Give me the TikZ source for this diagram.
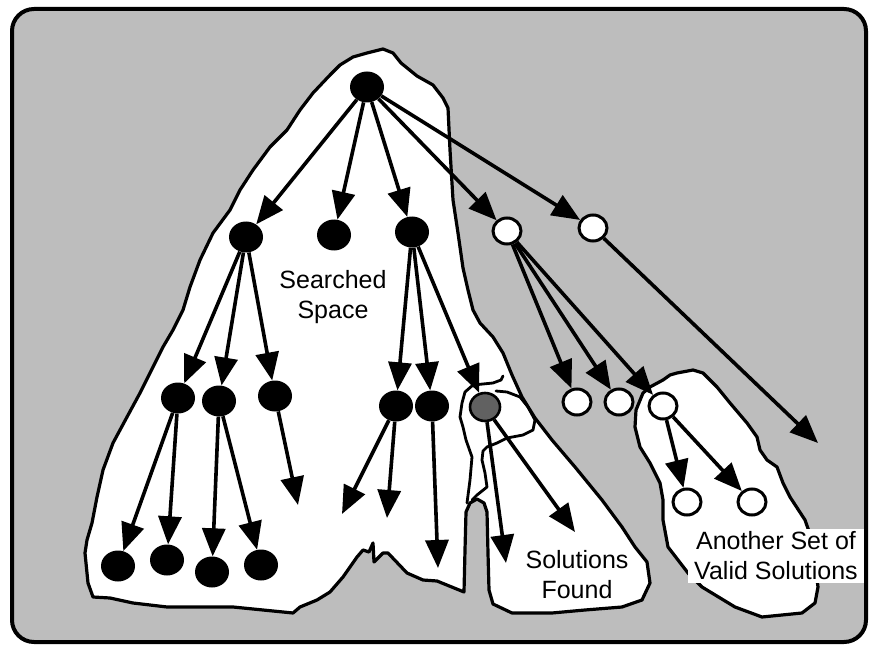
\documentclass[tikz,border=0pt]{standalone}
\usepackage{fontspec}
\setmainfont{Liberation Sans}
\usetikzlibrary{arrows.meta,shapes.geometric}
\definecolor{paper}{gray}{0.74}
\begin{document}
\begin{tikzpicture}[x=1pt,y=-1pt,
  blob/.style={fill=white,draw=black,line width=3.2pt,line join=round},
  rim/.style={draw=black,line width=2.8pt,line join=round,line cap=round},
  solidnode/.style={ellipse,fill=black,minimum width=34pt,minimum height=31pt,inner sep=0pt},
  opennode/.style={ellipse,fill=white,draw=black,line width=3pt,minimum width=28pt,minimum height=26pt,inner sep=0pt},
  foundnode/.style={ellipse,fill=black!62,draw=black,line width=2.6pt,minimum width=30pt,minimum height=28pt,inner sep=0pt},
  link/.style={line width=3.6pt,-{Triangle[length=28pt,width=23pt]}},
  caption/.style={font=\fontsize{25}{30}\selectfont,align=center,inner sep=2pt}]
\useasboundingbox (0,0) rectangle (870,647);

% frame with the shaded search space
\draw[fill=paper,line width=4pt,rounded corners=22pt] (12,9) rectangle (866,642);

% searched space joined to the region of found solutions
\draw[blob] (383,49) -- (393,53) -- (401,63) -- (417,76) -- (433,85) -- (443,98) -- (448,108)
  -- (450,150) -- (453,200) -- (458,233) -- (463,268) -- (468,290) -- (473,310) -- (480,323)
  -- (493,337) -- (503,353) -- (512,375) -- (522,397) -- (535,418) -- (552,440) -- (575,467)
  -- (602,500) -- (622,527) -- (635,547) -- (647,562) -- (650,583) -- (642,600) -- (622,607)
  -- (585,610) -- (552,613) -- (512,613) -- (493,604) -- (489,590) -- (488,553) -- (487,512)
  -- (484,503) -- (477,499) -- (470,503) -- (466,512) -- (465,550) -- (464,592) -- (437,581)
  -- (423,580) -- (407,573) -- (388,553) -- (383,553) -- (374,562) -- (373,543) -- (369,552)
  -- (363,550) -- (357,557) -- (343,577) -- (330,592) -- (317,600) -- (300,607) -- (293,613)
  -- (233,607) -- (167,607) -- (133,603) -- (110,598) -- (93,597) -- (88,583) -- (85,553)
  -- (87,540) -- (92,523) -- (97,497) -- (103,470) -- (113,443) -- (127,417) -- (140,393)
  -- (153,367) -- (163,347) -- (173,330) -- (183,310) -- (190,287) -- (200,260) -- (213,233)
  -- (230,210) -- (240,190) -- (253,170) -- (270,147) -- (287,130) -- (300,110) -- (313,93)
  -- (330,75) -- (340,65) -- (353,57) -- (367,53) -- cycle;

% loop around the solution that was found
\draw[rim] (467,503) -- (470,480) -- (472,457) -- (466,440) -- (463,427) -- (460,417)
  -- (462,403) -- (465,392) -- (473,385) -- (493,383) -- (501,380) -- (503,376);
\draw[rim] (496,391) -- (507,392) -- (520,397) -- (528,407) -- (535,420) -- (533,430)
  -- (523,435) -- (507,438) -- (497,443) -- (487,447) -- (483,451) -- (482,460) -- (485,473)
  -- (487,487) -- (477,495) -- (472,500);

% another set of valid solutions
\draw[blob] (643,393) -- (650,387) -- (663,380) -- (670,375) -- (677,373) -- (693,370)
  -- (703,373) -- (717,387) -- (730,403) -- (747,423) -- (757,437) -- (760,450) -- (767,460)
  -- (777,467) -- (783,483) -- (790,497) -- (805,520) -- (812,540) -- (818,587) -- (815,603)
  -- (802,613) -- (762,617) -- (735,607) -- (702,587) -- (688,573) -- (668,547) -- (663,520)
  -- (663,500) -- (660,483) -- (650,463) -- (640,447) -- (635,427) -- (636,410) -- cycle;

% captions
\node[caption] (searched) at (333,297) {Searched\\Space};
\node[caption] (found) at (577,575) {Solutions\\Found};
\node[caption,fill=white,inner xsep=6pt,inner ysep=3pt] (valid) at (776,556) {Another Set of\\Valid Solutions};

% tree nodes
\node[solidnode] (r) at (367,87) {};
\node[solidnode] (a) at (246,237) {};
\node[solidnode] (b) at (334,235) {};
\node[solidnode] (c) at (412,232) {};
\node[opennode] (w1) at (507,231) {};
\node[opennode] (w2) at (593,228) {};

\node[solidnode] (a1) at (178,398) {};
\node[solidnode] (a2) at (219,401) {};
\node[solidnode] (a3) at (275,396) {};
\node[solidnode] (c1) at (396,406) {};
\node[solidnode] (c2) at (432,406) {};
\node[foundnode] (g) at (485,407) {};
\node[opennode] (w11) at (577,402) {};
\node[opennode] (w12) at (619,402) {};
\node[opennode] (w13) at (663,406) {};

\node[solidnode] (a11) at (118,566) {};
\node[solidnode] (a12) at (167,560) {};
\node[solidnode] (a21) at (212,572) {};
\node[solidnode] (a22) at (261,565) {};
\node[opennode] (w131) at (687,502) {};
\node[opennode] (w132) at (752,502) {};

% loose ends of unexplored branches
\coordinate (e1) at (298,505);
\coordinate (e2) at (342,514);
\coordinate (e3) at (387,518);
\coordinate (e4) at (438,568);
\coordinate (e5) at (506,563);
\coordinate (e6) at (575,532);
\coordinate (e7) at (818,443);

% connectors
\draw[link] (r) -- (a);
\draw[link] (r) -- (b);
\draw[link] (r) -- (c);
\draw[link] (r) -- (w1);
\draw[link] (r) -- (w2);
\draw[link] (w2) -- (e7);

\draw[link] (a) -- (a1);
\draw[link] (a) -- (a2);
\draw[link] (a) -- (a3);
\draw[link] (c) -- (c1);
\draw[link] (c) -- (c2);
\draw[link] (c) -- (g);
\draw[link] (w1) -- (w11);
\draw[link] (w1) -- (w12);
\draw[link] (w1) -- (w13);

\draw[link] (a1) -- (a11);
\draw[link] (a1) -- (a12);
\draw[link] (a2) -- (a21);
\draw[link] (a2) -- (a22);
\draw[link] (a3) -- (e1);
\draw[link] (c1) -- (e2);
\draw[link] (c1) -- (e3);
\draw[link] (c2) -- (e4);
\draw[link] (g) -- (e5);
\draw[link] (g) -- (e6);
\draw[link] (w13) -- (w131);
\draw[link] (w13) -- (w132);
\end{tikzpicture}
\end{document}
